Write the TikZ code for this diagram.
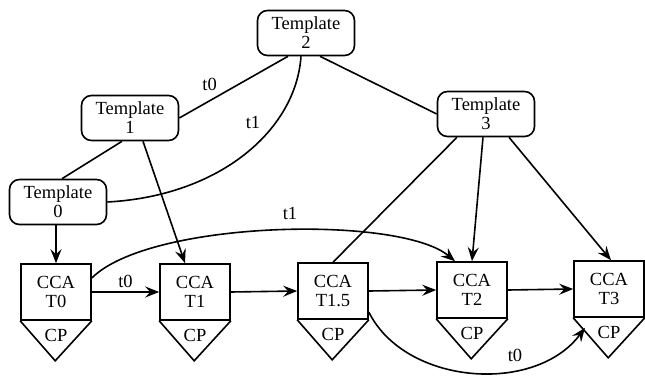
\documentclass[tikz,border=0pt]{standalone}
\usepackage{fontspec}
\setmainfont{Liberation Serif}
\usetikzlibrary{arrows.meta}
\begin{document}
\begin{tikzpicture}[x=1pt,y=-1pt,
  font=\fontsize{18.5}{19}\selectfont,
  tmpl/.style={draw, line width=1.6pt, rounded corners=10pt, minimum width=97pt,
    minimum height=45pt, align=center, inner sep=0pt},
  ccabox/.style={draw, line width=1.6pt, minimum width=70pt, minimum height=56pt,
    align=center, inner sep=0pt},
  link/.style={line width=1.6pt},
  arr/.style={link, -{Stealth[length=14pt,width=11pt,inset=5pt]}},
  lbl/.style={inner sep=1pt}]
\useasboundingbox (0,0) rectangle (645,375);

% template nodes
\node[tmpl] (tp2) at (306,33)  {Template\\2};
\node[tmpl] (tp1) at (130,118) {Template\\1};
\node[tmpl] (tp0) at (58,202)  {Template\\0};
\node[tmpl] (tp3) at (486,114) {Template\\3};

% CCA boxes with their CP triangles
\foreach \n/\x/\y/\t in {c0/56/292/T0, c1/195/292/T1, c15/333/291/T1.5, c2/472/290/T2, c3/609/289/T3}{
  \node[ccabox] (\n) at (\x,\y) {CCA\\\t};
  \draw[link, line join=miter] (\n.south west) -- ++(35,40) -- (\n.south east);
  \node (\n cp) at ([yshift=-15pt]\n.south) {CP};
}

% template hierarchy
\draw[link] ([xshift=-18pt]tp2.south) -- node[lbl, pos=0.62, above left=2pt] (lt0) {t0} (tp1.east);
\draw[link] ([xshift=-5pt]tp2.south) .. controls (296,130) and (220,196) .. (tp0.east);
\node[lbl] (lt1) at (253,122) {t1};
\draw[link] ([xshift=14pt]tp2.south) -- (tp3.west);
\draw[link] ([xshift=-8pt]tp1.south) -- ([xshift=4pt]tp0.north);

% templates to CCAs
\draw[arr] (tp0.south -| c0.north) -- (c0.north);
\draw[arr] ([xshift=13pt]tp1.south) -- ([xshift=-10pt]c1.north);
\draw[link] ([xshift=-29pt]tp3.south) -- (c15.north);
\draw[arr] ([xshift=-3pt]tp3.south) -- (c2.north);
\draw[arr] ([xshift=23pt]tp3.south) -- ([xshift=2pt]c3.north);

% CCA chain
\draw[arr] (c0.east) -- node[lbl, above=3pt] (lc0) {t0} (c1.west);
\draw[arr] (c1.east) -- (c15.west);
\draw[arr] (c15.east) -- (c2.west);
\draw[arr] (c2.east) -- (c3.west);

% skip links
\draw[arr] ([yshift=14pt]c0.east) .. controls (150,220) and (400,215) .. ([xshift=-17pt]c2.north);
\node[lbl] (lc1) at (290,213) {t1};
\draw[arr] ([yshift=-21pt]c15.east) .. controls (405,385) and (535,395) .. ([xshift=-24pt,yshift=-10pt]c3.south);
\node[lbl] (lc2) at (515,355) {t0};
\end{tikzpicture}
\end{document}
